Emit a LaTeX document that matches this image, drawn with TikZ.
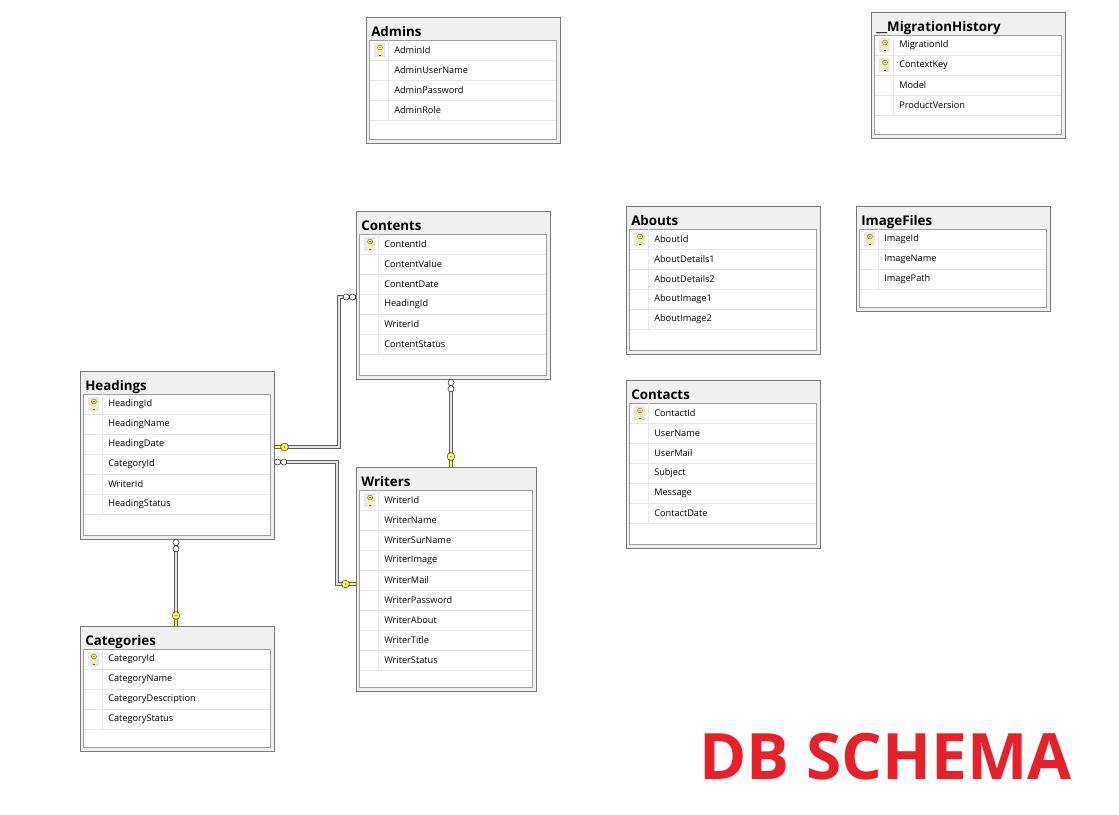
\documentclass[tikz,border=0pt]{standalone}
\usepackage{fontspec}
\setmainfont{Open Sans}
\usetikzlibrary{calc}
\definecolor{headgray}{HTML}{F0F0F0}
\definecolor{keyyellow}{HTML}{FFFF40}
\definecolor{schemared}{HTML}{E8202A}

% key glyph in the key column of a table
\newcommand{\rowkey}[2]{%
  \fill[gray!18] (#1-6,#2-7) rectangle (#1+5,#2+7);
  \draw[line width=1.7pt, black!65] (#1,#2-1) -- (#1,#2+5.5);
  \draw[line width=0.9pt, keyyellow] (#1,#2-1) -- (#1,#2+5);
  \filldraw[fill=keyyellow, draw=black!65, line width=0.3pt] (#1,#2-2.5) circle (1.8pt);
  \fill[black!65] (#1,#2-2.5) circle (0.4pt);
}
% one table: name, left, top, width, height, keys, title, fields
\newcommand{\dbtable}[8]{%
  \node[tablebox, minimum width=#4*0.75pt, minimum height=#5*0.75pt] (#1) at (#2,#3) {};
  \node[tabletitle] (#1-title) at (#2+5,#3+19) {#7};
  \draw[innerbox] (#2+3.5,#3+23) rectangle (#2+#4-3.5,#3+#5-3.5);
  \foreach \f [count=\i] in {#8} {
    \draw[rowline] (#2+4,#3+23+20*\i) -- (#2+#4-4,#3+23+20*\i);
    \node[field] (#1-\i) at (#2+28,#3+13.5+20*\i) {\f};
    \ifnum\i>#6\else\rowkey{#2+14}{#3+13+20*\i}\fi
    \xdef\nrows{\i}
  }
  \draw[rowline] (#2+22,#3+23) -- (#2+22,#3+23+20*\nrows);
}
% relationship ends: edge point, direction
\newcommand{\onekey}[3]{%
  \draw[line width=2pt, black!70] (#1) -- ($(#1)+(#2*8,#3*8)$);
  \draw[line width=1.1pt, keyyellow] ($(#1)+(#2*0.5,#3*0.5)$) -- ($(#1)+(#2*8,#3*8)$);
  \filldraw[fill=keyyellow, draw=black!75, line width=0.4pt] ($(#1)+(#2*10.5,#3*10.5)$) circle (2.9pt);
  \fill[black!75] ($(#1)+(#2*10.5,#3*10.5)$) circle (0.5pt);
}
\newcommand{\manyend}[3]{%
  \filldraw[fill=white, draw=black!85, line width=0.4pt]
    ($(#1)+(#2*3.5,#3*3.5)$) circle (2.3pt) ($(#1)+(#2*9.8,#3*9.8)$) circle (2.3pt);
}

\begin{document}
\begin{tikzpicture}
  [x=0.75pt,y=-0.75pt,
   tablebox/.style={draw=gray!95!black, fill=headgray, anchor=north west, inner sep=0, outer sep=0, line width=0.6pt},
   innerbox/.style={draw=gray!75, fill=white, line width=0.5pt},
   rowline/.style={draw=black!9, line width=0.5pt},
   tabletitle/.style={anchor=base west, inner sep=0, font=\bfseries\fontsize{10}{12}\selectfont},
   field/.style={anchor=west, inner sep=0, font=\fontsize{6.9}{8}\selectfont},
   relline/.style={draw=gray!75!black, double=gray!20, double distance=1.1pt, line width=0.75pt},
   schema/.style={anchor=west, inner sep=0, text=schemared, font=\bfseries\fontsize{48}{50}\selectfont}]
  \fill[white] (0,0) rectangle (1119,814);
  \useasboundingbox (0,0) rectangle (1119,814);

  \dbtable{admins}{366}{17}{194}{126}{1}{Admins}{AdminId,AdminUserName,AdminPassword,AdminRole}
  \dbtable{migration}{871}{12}{194}{126}{2}{\_\_MigrationHistory}{MigrationId,ContextKey,Model,ProductVersion}
  \dbtable{contents}{356}{211}{194}{168}{1}{Contents}{ContentId,ContentValue,ContentDate,HeadingId,WriterId,ContentStatus}
  \dbtable{abouts}{626}{206}{194}{148}{1}{Abouts}{AboutId,AboutDetails1,AboutDetails2,AboutImage1,AboutImage2}
  \dbtable{imagefiles}{856}{206}{194}{105}{1}{ImageFiles}{ImageId,ImageName,ImagePath}
  \dbtable{contacts}{626}{380}{194}{168}{1}{Contacts}{ContactId,UserName,UserMail,Subject,Message,ContactDate}
  \dbtable{headings}{80}{371}{194}{168}{1}{Headings}{HeadingId,HeadingName,HeadingDate,CategoryId,WriterId,HeadingStatus}
  \dbtable{writers}{356}{467}{180}{224}{1}{Writers}{WriterId,WriterName,WriterSurName,WriterImage,WriterMail,WriterPassword,WriterAbout,WriterTitle,WriterStatus}
  \dbtable{categories}{80}{626}{194}{125}{1}{Categories}{CategoryId,CategoryName,CategoryDescription,CategoryStatus}

  % relationships
  \coordinate (hc-a) at (274,447);
  \coordinate (hc-b) at (356,297);
  \coordinate (hw-a) at (274,462);
  \coordinate (hw-b) at (356,584);
  \coordinate (cw-a) at (451,379);
  \coordinate (cw-b) at (451,467);
  \coordinate (hk-a) at (176,539);
  \coordinate (hk-b) at (176,626);

  \draw[relline] (hc-a) -- ++(65,0) |- (hc-b);
  \draw[relline] (hw-a) -- ++(63,0) |- (hw-b);
  \draw[relline] (cw-a) -- (cw-b);
  \draw[relline] (hk-a) -- (hk-b);

  \onekey{hc-a}{1}{0}   \manyend{hc-b}{-1}{0}
  \manyend{hw-a}{1}{0}  \onekey{hw-b}{-1}{0}
  \manyend{cw-a}{0}{1}  \onekey{cw-b}{0}{-1}
  \manyend{hk-a}{0}{1}  \onekey{hk-b}{0}{-1}

  \node[schema] (title) at (699,757) {DB SCHEMA};
\end{tikzpicture}
\end{document}
